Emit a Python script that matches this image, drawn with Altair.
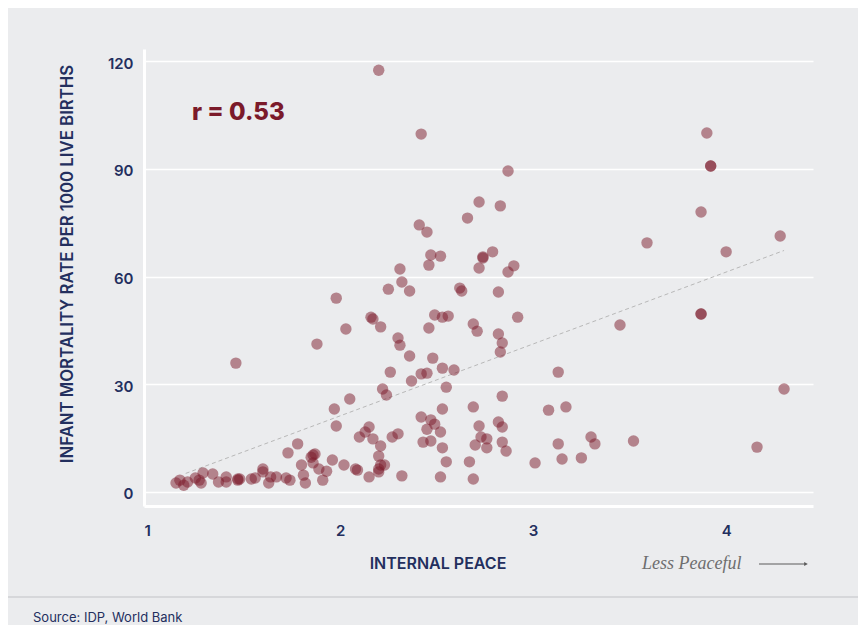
import altair as alt
import pandas as pd

# Internal peace score (x) and infant mortality per 1000 live births (y)
peace = [
    1.15, 1.17, 1.19, 1.21, 1.25, 1.27, 1.28, 1.29, 1.34, 1.37,
    1.41, 1.41, 1.47, 1.47, 1.48, 1.54, 1.56, 1.60, 1.60, 1.63,
    1.64, 1.67, 1.73, 1.72, 1.74, 1.78, 1.81, 1.82, 1.80, 1.85,
    1.86, 1.87, 1.86, 1.89, 1.91, 1.93, 1.96, 2.02, 2.08, 2.09,
    2.15, 2.20, 2.21, 2.23, 2.20, 2.21, 2.17, 2.10, 2.13, 2.15,
    1.98, 1.97, 2.05, 2.27, 2.30, 2.32, 2.22, 2.24, 2.26, 2.37,
    2.42, 2.45, 2.36, 2.48, 2.53, 2.59, 2.55, 2.30, 2.31, 1.88,
    2.03, 2.21, 2.16, 2.17, 2.46, 2.49, 2.53, 2.56, 2.69, 2.71,
    2.92, 2.82, 2.84, 2.83, 1.98, 2.25, 2.36, 2.32, 2.31, 2.62,
    2.63, 2.82, 2.46, 2.47, 2.52, 2.72, 2.74, 2.74, 2.79, 2.90,
    2.87, 2.41, 2.45, 2.66, 2.72, 2.83, 2.87, 2.42, 2.20, 1.46,
    2.42, 2.47, 2.49, 2.45, 2.52, 2.43, 2.47, 2.53, 2.55, 2.52,
    2.69, 2.53, 2.84, 2.72, 2.82, 2.84, 2.73, 2.76, 2.70, 2.76,
    2.84, 2.86, 2.67, 2.69, 3.01, 3.08, 3.17, 3.13, 3.13, 3.15,
    3.25, 3.30, 3.32, 3.52, 3.45, 3.59, 3.87, 3.90, 3.92, 3.92,
    4.00, 4.28, 3.87, 3.87, 4.16, 4.30, 2.20,
]
mortality = [
    2.5, 3.3, 1.9, 2.8, 3.9, 3.3, 2.5, 5.3, 5.0, 2.8,
    4.2, 2.8, 3.6, 3.3, 3.6, 3.6, 3.9, 6.4, 5.6, 2.5,
    4.2, 4.2, 10.9, 3.9, 3.3, 13.4, 4.7, 2.5, 7.5, 9.7,
    10.3, 10.6, 8.1, 6.4, 3.3, 5.8, 8.9, 7.5, 6.4, 6.1,
    4.2, 6.4, 7.5, 7.5, 10.0, 12.8, 14.8, 15.3, 16.7, 18.1,
    18.4, 23.1, 25.9, 15.3, 16.2, 4.5, 28.7, 27.0, 33.4, 30.9,
    32.9, 33.1, 37.9, 37.3, 34.5, 34.0, 29.2, 42.9, 40.9, 41.2,
    45.4, 46.0, 48.7, 48.2, 45.7, 49.3, 48.7, 49.0, 46.8, 44.8,
    48.7, 44.0, 41.5, 39.0, 54.0, 56.5, 56.0, 58.5, 62.1, 56.8,
    56.0, 55.7, 63.2, 66.0, 65.7, 62.4, 65.5, 65.2, 66.9, 63.0,
    61.3, 74.4, 72.4, 76.3, 80.8, 79.7, 89.4, 99.7, 117.5, 35.9,
    20.9, 20.1, 18.9, 17.5, 16.7, 13.9, 14.2, 12.3, 8.4, 4.2,
    23.7, 23.1, 26.7, 18.4, 19.5, 18.1, 15.3, 14.8, 13.1, 12.3,
    13.9, 11.4, 8.4, 3.6, 8.1, 22.8, 23.7, 33.4, 13.4, 9.2,
    9.5, 15.3, 13.4, 14.2, 46.5, 69.4, 78.0, 100.0, 90.8, 90.8,
    66.9, 71.3, 49.6, 49.6, 12.5, 28.7, 5.6,
]

x_ticks = [1, 2, 3, 4]
y_ticks = [0, 30, 60, 90, 120]
x_domain = [0.984, 4.45]
y_domain = [-3.9, 123.4]
trend_extent = [1.2, 4.3]

r_label = ["r = 0.53"]
y_title = ["INFANT MORTALITY RATE PER 1000 LIVE BIRTHS"]
x_title = ["INTERNAL PEACE"]
direction_label = ["Less Peaceful"]
source_label = ["Source: IDP, World Bank"]

df = pd.DataFrame({"peace": peace, "mortality": mortality})

W, H = 669, 457
PAD_L, PAD_T = 136, 41
PAD_R = 850 - PAD_L - W
PAD_B = 617 - PAD_T - H

NAVY = "#232f5e"
RED = "#7b1a2a"
BG = "#ebecee"
FONT = "Inter"

x_scale = alt.Scale(domain=x_domain, nice=False, zero=False)
y_scale = alt.Scale(domain=y_domain, nice=False, zero=False)

x_enc = alt.X(
    "peace:Q", scale=x_scale,
    axis=alt.Axis(values=x_ticks, format="d", title=None, grid=False, ticks=False,
                  domainColor="white", domainWidth=3, labelColor=NAVY, labelFont=FONT,
                  labelFontSize=15, labelFontWeight=600, labelPadding=17),
)
y_enc = alt.Y(
    "mortality:Q", scale=y_scale,
    axis=alt.Axis(values=y_ticks, title=None, grid=True, gridColor="white", gridWidth=1.5,
                  ticks=False, domainColor="white", domainWidth=3, labelColor=NAVY,
                  labelFont=FONT, labelFontSize=15, labelFontWeight=600, labelPadding=11,
                  labelOffset=2),
)

points = alt.Chart(df).mark_circle(size=130, color=RED, opacity=0.5).encode(x=x_enc, y=y_enc)

trend = alt.Chart(df).transform_regression(
    "peace", "mortality", extent=trend_extent
).mark_line(color="#b8b8b8", strokeDash=[4, 3], strokeWidth=1).encode(
    x=alt.X("peace:Q", scale=x_scale), y=alt.Y("mortality:Q", scale=y_scale)
)


def label(text, **kw):
    enc = {k: alt.value(v) for k, v in kw.pop("pos").items()}
    return alt.Chart(pd.DataFrame({"t": text})).mark_text(**kw).encode(text="t:N", **enc)


r_text = label(r_label, pos={"x": 48, "y": 64}, align="left", baseline="middle",
               font=FONT, fontSize=24, fontWeight=800, color=RED)
ytitle = label(y_title, pos={"x": -76, "y": 215}, align="center", baseline="middle",
               angle=270, font=FONT, fontSize=16.8, fontWeight=600, color=NAVY)
xtitle = label(x_title, pos={"x": 294, "y": 515}, align="center", baseline="middle",
               font=FONT, fontSize=16, fontWeight=600, color=NAVY)
less = label(direction_label, pos={"x": 498, "y": 515}, align="left", baseline="middle",
             font="Liberation Serif", fontStyle="italic", fontSize=18, color="#6e6e6e")
source = label(source_label, pos={"x": -111, "y": 569}, align="left", baseline="middle",
               font=FONT, fontSize=13, color=NAVY)

arrow_line = alt.Chart(pd.DataFrame({"a": [0]})).mark_rule(color="#5a5a5a", strokeWidth=1).encode(
    x=alt.value(615), x2=alt.value(661), y=alt.value(515)
)
arrow_head = alt.Chart(pd.DataFrame({"a": [0]})).mark_point(
    shape="triangle-right", filled=True, size=18, color="#5a5a5a", opacity=1
).encode(x=alt.value(662), y=alt.value(515))
separator = alt.Chart(pd.DataFrame({"a": [0]})).mark_rule(color="#d6d7da", strokeWidth=2).encode(
    x=alt.value(-136), x2=alt.value(714), y=alt.value(548)
)

chart = alt.layer(
    trend, points, r_text, ytitle, xtitle, less, arrow_line, arrow_head, separator, source
).properties(
    width=W, height=H,
    autosize=alt.AutoSizeParams(type="none"),
    padding={"left": PAD_L, "top": PAD_T, "right": PAD_R, "bottom": PAD_B},
    background=BG,
).configure_view(stroke=None)

chart.save("out.html", embed_options={"renderer": "svg", "actions": False})
